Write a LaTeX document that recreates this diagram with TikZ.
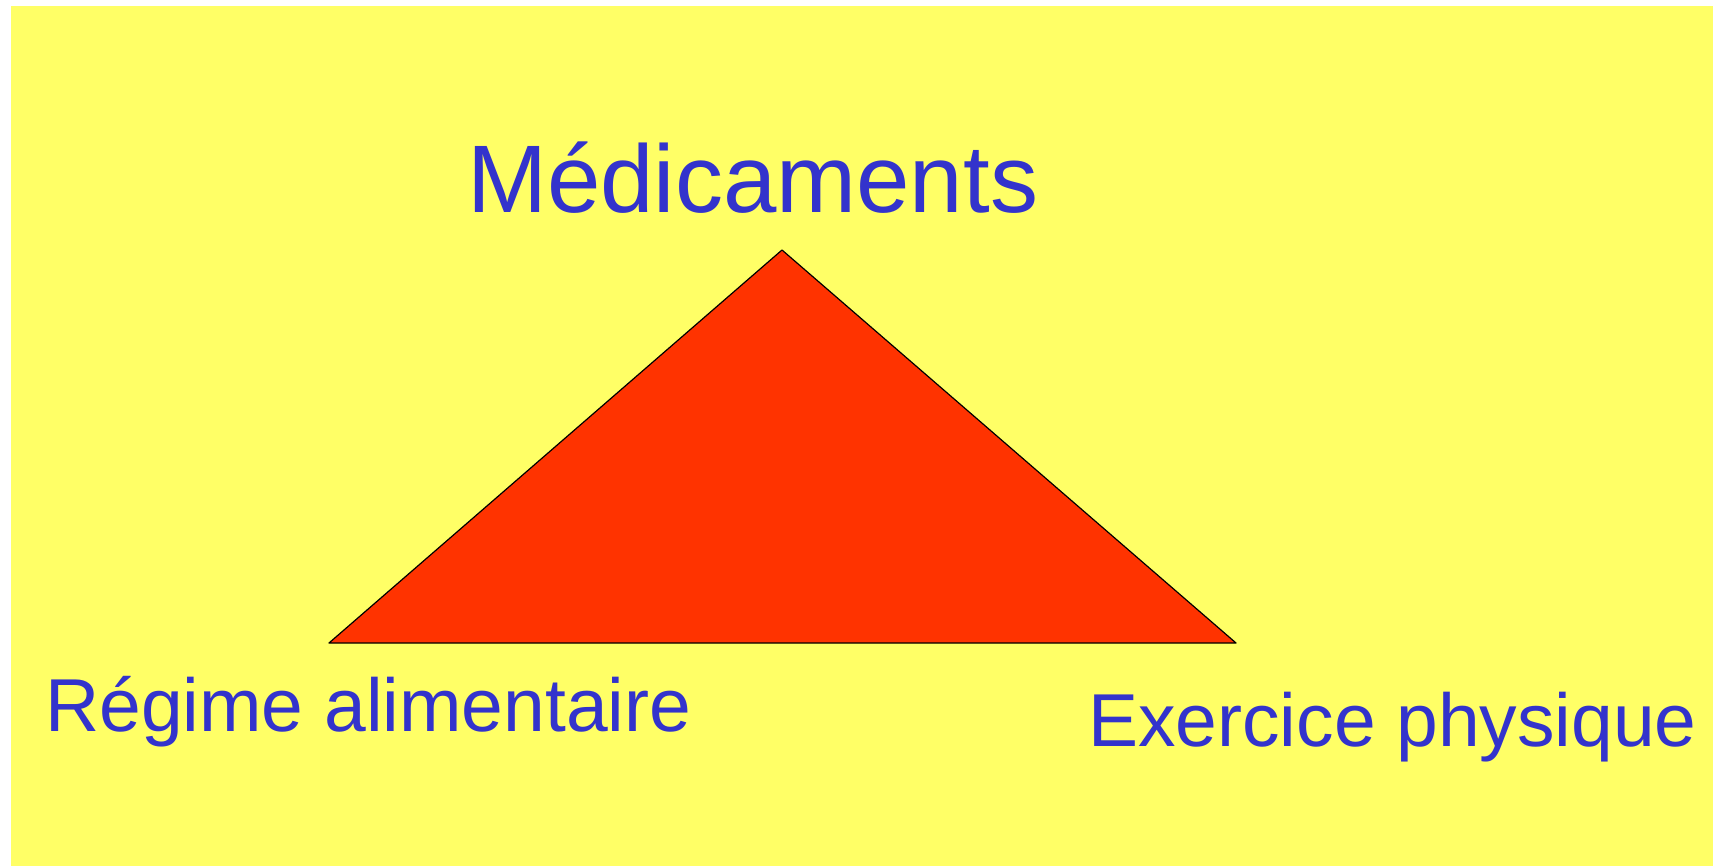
\documentclass[tikz,border=0pt]{standalone}
\usepackage{fontspec}
\setmainfont{Liberation Sans}
\usepackage{xcolor}
\usetikzlibrary{positioning, calc}
\definecolor{PyrYellow}{RGB}{255, 255, 102}
\definecolor{PyrRed}{RGB}{255, 51, 0}
\definecolor{PyrBlue}{RGB}{51, 51, 204}

\begin{document}
\begin{tikzpicture}[x=1pt,y=-1pt,
    pyrlabel/.style={anchor=base west, inner sep=0pt, text=PyrBlue}]
  \path[use as bounding box] (0,0) rectangle (1713,866);

  % Background
  \fill[white] (0,0) rectangle (1713,866);
  \fill[PyrYellow] (11,6) rectangle (1713,866);

  % Triangle corners
  \coordinate (top) at (782,250);
  \coordinate (left) at (329,643);
  \coordinate (right) at (1236,643);
  \filldraw[fill=PyrRed, draw=black, line width=1.2pt, line join=round]
    (top) -- (right) -- (left) -- cycle;

  % Labels
  \node[pyrlabel, font=\fontsize{96}{110}\selectfont] (med) at (467,213) {Médicaments};
  \node[pyrlabel, font=\fontsize{75}{86}\selectfont] (reg) at (45,731) {Régime alimentaire};
  \node[pyrlabel, font=\fontsize{75}{86}\selectfont] (exo) at (1088,746) {Exercice physique};
\end{tikzpicture}
\end{document}
